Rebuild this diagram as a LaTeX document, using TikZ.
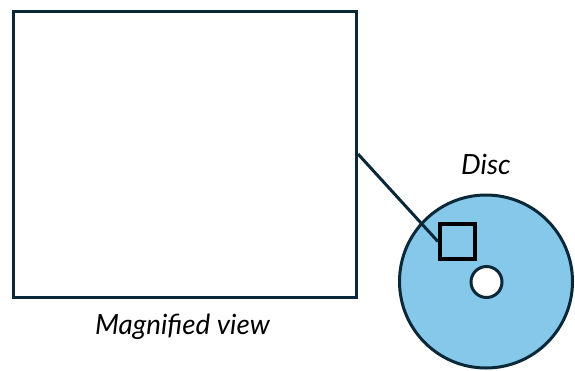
\documentclass[tikz,border=0pt]{standalone}
\usepackage{fontspec}
\setmainfont{Lato}
\definecolor{navy}{HTML}{0B2838}
\definecolor{discblue}{HTML}{85C8EA}
\begin{document}
\begin{tikzpicture}
[x=1pt,y=-1pt,
  viewdecorate/.style={draw=navy,line width=3pt,fill=white},%
  discdecorate/.style={shape=circle,draw=navy,line width=3pt,inner sep=0pt},%
  zoomdecorate/.style={shape=rectangle,draw=black,line width=4.2pt,inner sep=0pt,minimum size=35pt},%
  linedecorate/.style={-,draw=navy,line width=3pt},%
  labeldecorate/.style={anchor=base,font=\itshape\fontsize{27.8}{32}\selectfont,inner sep=0pt}]
\useasboundingbox (0,0) rectangle (575,370);
%%% magnified view
\node (view) at (185,154) [viewdecorate,minimum width=343pt,minimum height=286pt,inner sep=0pt] {};
\node (viewlabel) at (182.5,334) [labeldecorate] {Magnified view};
%%% disc with hole and zoom square
\node (disc) at (486,281.5) [discdecorate,fill=discblue,minimum size=173pt] {};
\node (hole) at (486.5,282) [discdecorate,fill=white,minimum size=31pt] {};
\node (zoom) at (457.5,241.5) [zoomdecorate] {};
\node (disclabel) at (486,174) [labeldecorate] {Disc};
% connector
\path
(view.east) edge[linedecorate] (zoom.west);
\end{tikzpicture}
\end{document}
